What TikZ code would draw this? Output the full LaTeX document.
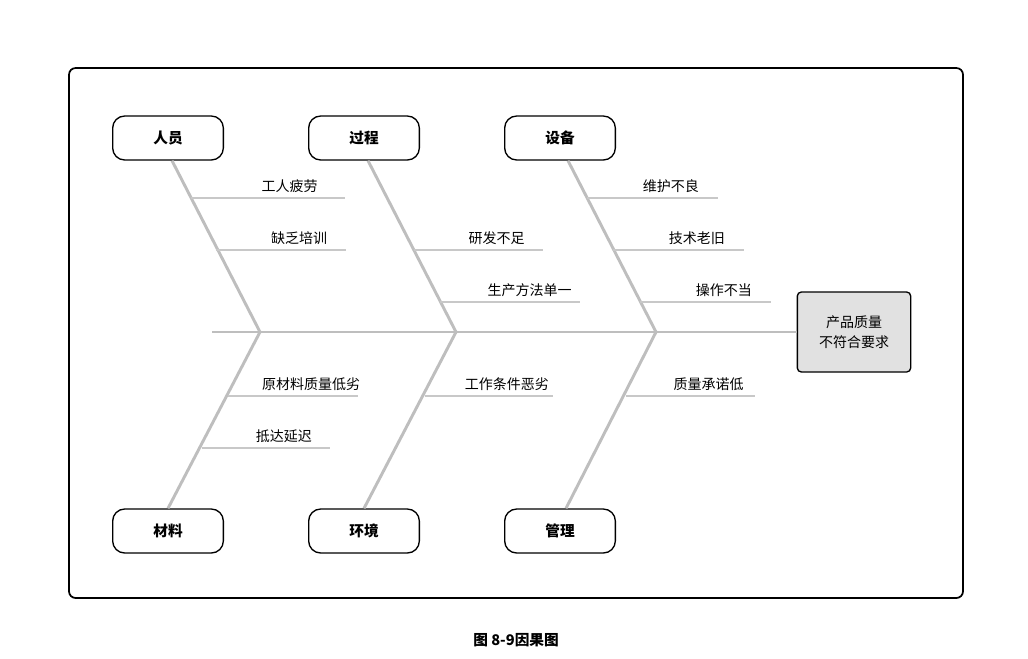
\documentclass[tikz,border=0pt]{standalone}
\usepackage{fontspec}
\setmainfont{Noto Sans CJK SC}
\usetikzlibrary{calc,positioning}
\definecolor{bone_gray}{RGB}{190,190,190}
\definecolor{sub_gray}{RGB}{200,200,200}
\definecolor{head_gray}{RGB}{225,225,225}

\begin{document}
\begin{tikzpicture}[x=0.75pt,y=-0.75pt]
    \tikzstyle{cause}=[draw=black, line width=1pt, rounded corners=9pt, minimum width=83pt, minimum height=33pt, font=\fontsize{11}{13}\selectfont\bfseries, fill=white]
    \tikzstyle{head}=[draw=black, line width=1pt, rounded corners=3pt, minimum width=85pt, minimum height=60pt, fill=head_gray, align=center, font=\fontsize{10.5}{15}\selectfont]
    \tikzstyle{bone}=[draw=bone_gray, line width=2.2pt]
    \tikzstyle{twig}=[draw=sub_gray, line width=1pt]
    \tikzstyle{reason}=[font=\fontsize{10.5}{12}\selectfont, anchor=south, inner sep=3.5pt]

    \useasboundingbox (0,0) rectangle (1028,658);
    \draw[line width=1.3pt, rounded corners=5pt] (69,68) rectangle (963,598);

    % effect and spine
    \node[head] (E) at (854,332) {产品质量\\不符合要求};
    \coordinate (S) at (212,332);
    \coordinate (H1) at (260,332);
    \coordinate (H2) at (456,332);
    \coordinate (H3) at (656,332);
    \draw[bone] (S) -- (E.west);

    % categories
    \node[cause] (P) at (168,138) {人员};
    \node[cause] (G) at (364,138) {过程};
    \node[cause] (D) at (560,138) {设备};
    \node[cause] (M) at (168,531) {材料};
    \node[cause] (V) at (364,531) {环境};
    \node[cause] (A) at (560,531) {管理};

    \draw[bone] ($(P.south)+(4,0)$) -- (H1);
    \draw[bone] ($(G.south)+(4,0)$) -- (H2);
    \draw[bone] ($(D.south)+(8,0)$) -- (H3);
    \draw[bone] (M.north) -- (H1);
    \draw[bone] (V.north) -- (H2);
    \draw[bone] ($(A.north)+(6,0)$) -- (H3);

    % reasons
    \foreach \x/\y/\xe/\t/\name in {191/198/345/工人疲劳/r1, 216/250/346/缺乏培训/r2,
        414/250/543/研发不足/r3, 440/302/580/生产方法单一/r4,
        587/198/718/维护不良/r5, 613/250/744/技术老旧/r6, 640/302/771/操作不当/r7,
        228/396/358/原材料质量低劣/r8, 202/448/330/抵达延迟/r9,
        425/396/553/工作条件恶劣/r10, 626/396/755/质量承诺低/r11}{
      \coordinate (\name a) at (\x,\y);
      \coordinate (\name b) at (\xe,\y);
      \draw[twig] (\name a) -- (\name b);
      \node[reason] (\name) at ($(\name a)!0.64!(\name b)$) {\t};
    }

    \node[font=\fontsize{11}{13}\selectfont\bfseries] (cap) at (516,640) {图 8-9因果图};
\end{tikzpicture}
\end{document}
